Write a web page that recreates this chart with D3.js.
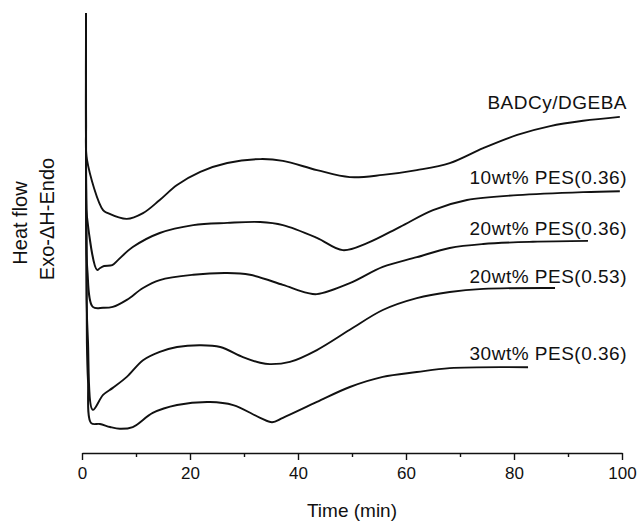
<!DOCTYPE html>
<html>
<head>
<meta charset="utf-8">
<script src="https://cdn.jsdelivr.net/npm/d3@7"></script>
<style>
  html, body { margin: 0; padding: 0; background: #fff; }
  svg text { font-family: "Liberation Sans", Arial, sans-serif; fill: #111; }
</style>
</head>
<body>
<div id="dsc"></div>
<script>
// curve names (labels at the right end)
const seriesNames = ["BADCy/DGEBA", "10wt% PES(0.36)", "20wt% PES(0.36)", "20wt% PES(0.53)", "30wt% PES(0.36)"];

// time (min) and heat flow (arb. units, curves offset)
const timeBADCy = [0.74, 0.76, 0.93, 3.9, 4.8, 8.3, 11.3, 14.4, 17.6, 21.9, 26.9, 33.0, 37.2, 43.5, 49.6, 55.7, 62.0, 68.1, 74.3, 80.6, 86.7, 92.8, 99.6];
const flowBADCy = [100, 75, 66.6, 55.2, 54.5, 53.2, 54.5, 57.5, 60.9, 63.9, 65.9, 66.8, 66.4, 64.3, 62.7, 63.2, 64.3, 65.9, 69.3, 72.3, 74.3, 75.5, 76.4];

const timePES10 = [0.74, 0.76, 0.93, 2.8, 3.3, 4.1, 5.6, 6.7, 9.4, 14.4, 20.6, 26.9, 33.0, 37.2, 43.5, 48.3, 52.8, 58.9, 65.0, 71.3, 80.6, 92.8, 99.6];
const flowPES10 = [100, 60, 53.6, 41.6, 42.0, 42.5, 42.7, 43.9, 46.8, 50.0, 51.8, 52.3, 52.5, 51.8, 48.9, 46.1, 47.7, 51.4, 55.2, 57.5, 58.6, 59.3, 59.5];

const timePES20 = [0.74, 0.8, 1.0, 2.0, 3.9, 5.7, 8.3, 11.3, 14.4, 20.6, 26.9, 31.1, 37.2, 41.7, 43.5, 49.6, 55.7, 62.0, 68.1, 74.3, 83.5, 93.7];
const flowPES20 = [100, 50, 41.6, 33.2, 33.0, 33.2, 34.8, 37.5, 39.3, 40.5, 40.9, 40.5, 38.2, 36.4, 36.1, 38.6, 42.3, 44.5, 46.6, 47.5, 48.0, 48.2];

const timePES20b = [0.74, 0.85, 1.1, 2.0, 3.9, 5.7, 8.3, 11.3, 14.4, 17.6, 21.9, 25.6, 29.8, 33.0, 34.8, 38.5, 43.5, 49.6, 55.7, 62.0, 68.1, 74.3, 87.6];
const flowPES20b = [100, 35, 25.7, 9.8, 13.2, 14.8, 17.3, 21.1, 23.0, 24.1, 24.5, 24.1, 21.8, 20.5, 20.2, 20.7, 23.4, 28.0, 32.5, 35.2, 36.6, 37.3, 37.5];

const timePES30 = [0.74, 0.9, 1.1, 1.7, 3.3, 5.2, 7.0, 9.4, 13.1, 17.6, 23.7, 28.0, 33.0, 35.2, 37.2, 43.5, 49.6, 55.7, 62.0, 68.1, 82.6];
const flowPES30 = [100, 25, 16.6, 6.8, 6.6, 5.9, 5.5, 5.9, 9.1, 10.9, 11.6, 10.9, 8.0, 7.0, 8.0, 11.6, 15.0, 17.3, 18.4, 19.3, 19.5];

// heat flow level where each label sits
const labelFlow = [78.2, 61.1, 49.5, 38.6, 21.1];

const majorTicks = [0, 20, 40, 60, 80, 100];
const minorTicks = [10, 30, 50, 70, 90];

const allTimes = [timeBADCy, timePES10, timePES20, timePES20b, timePES30];
const allFlows = [flowBADCy, flowPES10, flowPES20, flowPES20b, flowPES30];

const width = 640, height = 523;

let svg = d3.select("#dsc")
    .append("svg")
    .attr("width", width)
    .attr("height", height);

// scales
var x = d3.scaleLinear()
    .domain([0, 100])
    .range([82, 622]);

var y = d3.scaleLinear()
    .domain([0, 100])
    .range([453, 13]);

// x axis: major ticks with labels
let gx = svg.append("g")
    .attr("transform", "translate(0," + y(0) + ")")
    .call(d3.axisBottom(x).tickValues(majorTicks).tickSize(7).tickPadding(7).tickSizeOuter(0));
gx.select(".domain").attr("stroke", "#111").attr("stroke-width", 1.6);
gx.selectAll(".tick line").attr("stroke", "#111").attr("stroke-width", 1.4);
gx.selectAll(".tick text")
    .style("font-size", "17px")
    .style("font-family", "Liberation Sans, Arial, sans-serif")
    .attr("fill", "#111");

// minor ticks
let gm = svg.append("g")
    .attr("transform", "translate(0," + y(0) + ")")
    .call(d3.axisBottom(x).tickValues(minorTicks).tickSize(4).tickFormat(""));
gm.select(".domain").remove();
gm.selectAll(".tick line").attr("stroke", "#111").attr("stroke-width", 1.4);

// x axis title
svg.append("text")
    .attr("x", (x(0) + x(100)) / 2)
    .attr("y", 517)
    .style("text-anchor", "middle")
    .style("font-size", "19px")
    .text("Time (min)");

// y axis titles (no axis line)
svg.append("text")
    .attr("transform", "translate(27," + 223 + ") rotate(-90)")
    .style("text-anchor", "middle")
    .style("font-size", "20px")
    .text("Heat flow");

svg.append("text")
    .attr("transform", "translate(54," + 219 + ") rotate(-90)")
    .style("text-anchor", "middle")
    .style("font-size", "20px")
    .text("Exo-\u0394H-Endo");

// curves, smooth through the read points
var line = d3.line()
    .x(d => x(d[0]))
    .y(d => y(d[1]))
    .curve(d3.curveCatmullRom.alpha(0.5));

allTimes.forEach(function (times, i) {
    let pts = times.map((t, j) => [t, allFlows[i][j]]);
    svg.append("path")
        .datum(pts)
        .attr("d", line)
        .attr("fill", "none")
        .attr("stroke", "#111")
        .attr("stroke-width", 1.9)
        .attr("stroke-linejoin", "round");
});

// curve labels
seriesNames.forEach(function (name, i) {
    svg.append("text")
        .attr("x", x(100) + 5)
        .attr("y", y(labelFlow[i]))
        .style("text-anchor", "end")
        .style("font-size", "19px")
        .style("letter-spacing", "0.5px")
        .text(name);
});
</script>
</body>
</html>
